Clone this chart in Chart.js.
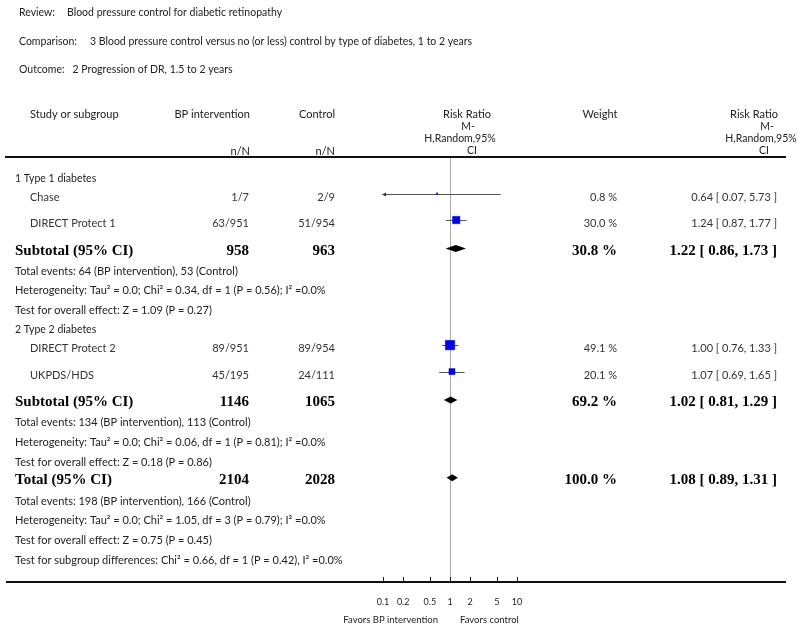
<!DOCTYPE html>
<html><head><meta charset="utf-8">
<script src="https://cdn.jsdelivr.net/npm/chart.js@4.4.0/dist/chart.umd.min.js"></script>
<style>html,body{margin:0;padding:0;background:#fff}canvas{display:block}</style>
</head><body>
<canvas id="c" width="800" height="630"></canvas>
<script>
// ---------- data ----------
const titleLabels = ['Review:', 'Comparison:', 'Outcome:'];
const titleTexts = ['Blood pressure control for diabetic retinopathy',
  '3 Blood pressure control versus no (or less) control by type of diabetes, 1 to 2 years',
  '2 Progression of DR, 1.5 to 2 years'];
const groupNames = ['1 Type 1 diabetes', '2 Type 2 diabetes'];
const groupStudies = [[0, 1], [2, 3]];
const studyNames = ['Chase', 'DIRECT Protect 1', 'DIRECT Protect 2', 'UKPDS/HDS'];
const eventsBP = [1, 63, 89, 45];
const totalBP = [7, 951, 951, 195];
const eventsCtl = [2, 51, 89, 24];
const totalCtl = [9, 954, 954, 111];
const studyRR = [0.64, 1.24, 1.00, 1.07];
const studyLo = [0.07, 0.87, 0.76, 0.69];
const studyHi = [5.73, 1.77, 1.33, 1.65];
const studyWeight = [0.8, 30.0, 49.1, 20.1];
const subNBP = [958, 1146];
const subNCtl = [963, 1065];
const subRR = [1.22, 1.02];
const subLo = [0.86, 0.81];
const subHi = [1.73, 1.29];
const subWeight = [30.8, 69.2];
const subTexts = [
  ['Total events: 64 (BP intervention), 53 (Control)',
   'Heterogeneity: Tau² = 0.0; Chi² = 0.34, df = 1 (P = 0.56); I² =0.0%',
   'Test for overall effect: Z = 1.09 (P = 0.27)'],
  ['Total events: 134 (BP intervention), 113 (Control)',
   'Heterogeneity: Tau² = 0.0; Chi² = 0.06, df = 1 (P = 0.81); I² =0.0%',
   'Test for overall effect: Z = 0.18 (P = 0.86)']];
const totalNBP = 2104, totalNCtl = 2028;
const totalRR = 1.08, totalLo = 0.89, totalHi = 1.31, totalWeight = 100.0;
const totalTexts = ['Total events: 198 (BP intervention), 166 (Control)',
  'Heterogeneity: Tau² = 0.0; Chi² = 1.05, df = 3 (P = 0.79); I² =0.0%',
  'Test for overall effect: Z = 0.75 (P = 0.45)',
  'Test for subgroup differences: Chi² = 0.66, df = 1 (P = 0.42), I² =0.0%'];
const tickValues = [0.1, 0.2, 0.5, 1, 2, 5, 10];
const tickLabels = ['0.1', '0.2', '0.5', '1', '2', '5', '10'];

// ---------- row layout ----------
const rows = [];
groupNames.forEach((g, gi) => {
  rows.push({kind: 'group', label: g});
  groupStudies[gi].forEach(i => rows.push({kind: 'study', i}));
  rows.push({kind: 'subtotal', g: gi});
  subTexts[gi].forEach(t => rows.push({kind: 'text', label: t}));
});
rows.push({kind: 'total'});
totalTexts.forEach(t => rows.push({kind: 'text', label: t}));
const half = {group: [10, 9], study: [9.5, 17], subtotal: [10.5, 10], text: [10, 9.7], total: [8.5, 11]};
let yy = 20;
rows.forEach((r, k) => {
  if (k > 0) yy += half[rows[k - 1].kind][1] + half[r.kind][0];
  r.y = yy;
});
const studyRowY = [];
rows.forEach(r => { if (r.kind === 'study') studyRowY[r.i] = r.y; });

const SANS = 'Lato, "Open Sans", sans-serif';
const SERIF = '"Liberation Serif", "DejaVu Serif", serif';
const fmtRR = (r, l, h) => r.toFixed(2) + ' [ ' + l.toFixed(2) + ', ' + h.toFixed(2) + ' ]';

const forestPlugin = {
  id: 'forest',
  beforeDatasetsDraw(chart) {
    const ctx = chart.ctx, xs = chart.scales.x, ys = chart.scales.y, a = chart.chartArea;
    const X = v => xs.getPixelForValue(v), Y = v => ys.getPixelForValue(v);
    ctx.save();
    ctx.strokeStyle = '#aaaaaa'; ctx.lineWidth = 1;
    ctx.beginPath(); ctx.moveTo(Math.round(X(1)) + 0.5, a.top); ctx.lineTo(Math.round(X(1)) + 0.5, a.bottom); ctx.stroke();
    ctx.strokeStyle = '#555'; ctx.fillStyle = '#333';
    studyNames.forEach((n, i) => {
      const y = Math.round(Y(studyRowY[i]) - 2) + 0.5;
      const lo = Math.max(studyLo[i], xs.min), hi = Math.min(studyHi[i], xs.max);
      ctx.beginPath(); ctx.moveTo(X(lo), y); ctx.lineTo(X(hi), y); ctx.stroke();
      if (studyLo[i] < xs.min) {
        const x0 = X(xs.min);
        ctx.beginPath(); ctx.moveTo(x0 - 1, y); ctx.lineTo(x0 + 3, y - 2); ctx.lineTo(x0 + 3, y + 2); ctx.closePath(); ctx.fill();
      }
      if (studyHi[i] > xs.max) {
        const x1 = X(xs.max);
        ctx.beginPath(); ctx.moveTo(x1 + 1, y); ctx.lineTo(x1 - 3, y - 2); ctx.lineTo(x1 - 3, y + 2); ctx.closePath(); ctx.fill();
      }
    });
    ctx.restore();
  },
  afterDatasetsDraw(chart) {
    const ctx = chart.ctx, xs = chart.scales.x, ys = chart.scales.y, a = chart.chartArea;
    const X = v => xs.getPixelForValue(v), Y = v => ys.getPixelForValue(v);
    const diamond = (r, l, h, y) => {
      ctx.beginPath(); ctx.moveTo(X(l), y); ctx.lineTo(X(r), y - 3.5); ctx.lineTo(X(h), y); ctx.lineTo(X(r), y + 3.5); ctx.closePath(); ctx.fill();
    };
    ctx.save();
    ctx.fillStyle = '#000';
    rows.forEach(r => {
      if (r.kind === 'subtotal') diamond(subRR[r.g], subLo[r.g], subHi[r.g], Y(r.y) - 1);
      if (r.kind === 'total') diamond(totalRR, totalLo, totalHi, Y(r.y) - 1);
    });

    // ---------- text ----------
    const txt = (s, x, y, align, font, color) => {
      ctx.font = font; ctx.fillStyle = color || '#222'; ctx.textAlign = align; ctx.textBaseline = 'middle';
      ctx.fillText(s, x, y);
      return ctx.measureText(s).width;
    };
    const F11 = '11px ' + SANS, F10 = '10.5px ' + SANS, FB = 'bold 15px ' + SERIF;
    const titleY = [13, 42, 70], titleX = [67, 90, 59];
    titleLabels.forEach((l, k) => {
      const w = txt(l, 19, titleY[k], 'left', F10);
      txt(titleTexts[k], Math.max(titleX[k], 19 + w + 8), titleY[k], 'left', F10);
    });
    txt('Study or subgroup', 30, 114, 'left', F11);
    txt('BP intervention', 250, 114, 'right', F11);
    txt('Control', 335, 114, 'right', F11);
    txt('n/N', 250, 151, 'right', F11);
    txt('n/N', 335, 151, 'right', F11);
    txt('Risk Ratio', 467, 114, 'center', F11);
    txt('M-', 468, 127, 'center', F10);
    txt('H,Random,95%', 460, 139, 'center', F10);
    txt('CI', 472, 151, 'center', F10);
    txt('Weight', 600, 114, 'center', F11);
    txt('Risk Ratio', 754, 114, 'center', F11);
    txt('M-', 767, 127, 'center', F10);
    txt('H,Random,95%', 761, 139, 'center', F10);
    txt('CI', 764, 151, 'center', F10);
    rows.forEach(r => {
      const y = Y(r.y) + 1.5;
      if (r.kind === 'group') txt(r.label, 15, y, 'left', F10);
      else if (r.kind === 'text') txt(r.label, 15, y, 'left', F11);
      else if (r.kind === 'study') {
        const i = r.i;
        txt(studyNames[i], 30, y, 'left', F11, '#333');
        txt(eventsBP[i] + '/' + totalBP[i], 249, y, 'right', F11, '#333');
        txt(eventsCtl[i] + '/' + totalCtl[i], 335, y, 'right', F11, '#333');
        txt(studyWeight[i].toFixed(1) + ' %', 617, y, 'right', F11, '#333');
        txt(fmtRR(studyRR[i], studyLo[i], studyHi[i]), 777, y, 'right', F11, '#333');
      } else if (r.kind === 'subtotal') {
        const g = r.g;
        txt('Subtotal (95% CI)', 15, y, 'left', FB, '#000');
        txt(String(subNBP[g]), 249, y, 'right', FB, '#000');
        txt(String(subNCtl[g]), 335, y, 'right', FB, '#000');
        txt(subWeight[g].toFixed(1) + ' %', 617, y, 'right', FB, '#000');
        txt(fmtRR(subRR[g], subLo[g], subHi[g]), 777, y, 'right', FB, '#000');
      } else if (r.kind === 'total') {
        txt('Total (95% CI)', 15, y, 'left', FB, '#000');
        txt(String(totalNBP), 249, y, 'right', FB, '#000');
        txt(String(totalNCtl), 335, y, 'right', FB, '#000');
        txt(totalWeight.toFixed(1) + ' %', 617, y, 'right', FB, '#000');
        txt(fmtRR(totalRR, totalLo, totalHi), 777, y, 'right', FB, '#000');
      }
    });
    ctx.strokeStyle = '#111'; ctx.lineWidth = 2;
    ctx.beginPath(); ctx.moveTo(5, a.top); ctx.lineTo(786, a.top); ctx.stroke();
    ctx.beginPath(); ctx.moveTo(6, a.bottom); ctx.lineTo(786, a.bottom); ctx.stroke();
    ctx.lineWidth = 1; ctx.strokeStyle = '#222';
    tickValues.forEach((v, k) => {
      const x = Math.round(X(v)) + 0.5;
      ctx.beginPath(); ctx.moveTo(x, a.bottom - 5); ctx.lineTo(x, a.bottom); ctx.stroke();
      txt(tickLabels[k], X(v), a.bottom + 20, 'center', '9px ' + SANS);
    });
    txt('Favors BP intervention', X(1) - 12, a.bottom + 38, 'right', '9.5px ' + SANS);
    txt('Favors control', X(1) + 10, a.bottom + 38, 'left', '9.5px ' + SANS);
    ctx.restore();
  }
};

new Chart(document.getElementById('c'), {
  type: 'scatter',
  data: {
    datasets: [{
      data: studyNames.map((n, i) => ({x: studyRR[i], y: studyRowY[i] - 2})),
      pointStyle: 'rect',
      pointRadius: studyWeight.map(w => Math.max(0.9, 0.95 * Math.sqrt(w))),
      backgroundColor: '#0000f0',
      borderColor: '#0000c0',
      borderWidth: 0.5
    }]
  },
  options: {
    responsive: false,
    animation: false,
    devicePixelRatio: 1,
    layout: {padding: {left: 383, right: 283, top: 157, bottom: 48}},
    scales: {
      x: {type: 'logarithmic', min: 0.1, max: 10, display: false},
      y: {type: 'linear', min: 0, max: 425, reverse: true, display: false}
    },
    plugins: {legend: {display: false}, tooltip: {enabled: false}}
  },
  plugins: [forestPlugin]
});
</script>
</body></html>
